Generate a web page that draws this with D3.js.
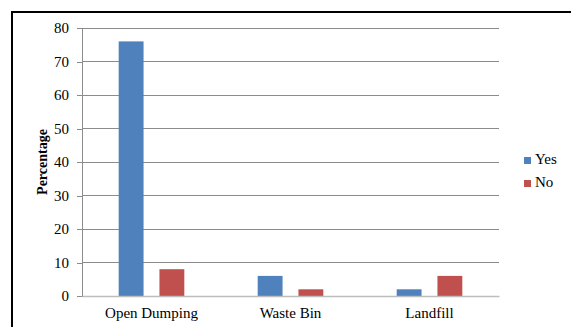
<!DOCTYPE html>
<html>
<head>
<meta charset="utf-8">
<script src="https://cdn.jsdelivr.net/npm/d3@7"></script>
<style>
  html, body { margin: 0; padding: 0; background: #fff; }
  svg { display: block; }
  text { font-family: "Liberation Serif", "Times New Roman", serif; fill: #000; }
</style>
</head>
<body>
<script>
// Disposal method survey: share of respondents answering Yes / No
const categories = ["Open Dumping", "Waste Bin", "Landfill"];
const seriesNames = ["Yes", "No"];
const yesValues = [76, 6, 2];
const noValues = [8, 2, 6];
const yTicks = [0, 10, 20, 30, 40, 50, 60, 70, 80];
const colors = ["#4F81BD", "#C0504D"];

const W = 571, H = 327;
const plot = { left: 82, right: 499, top: 28, bottom: 296 };
const FONT = '"Liberation Serif", "Times New Roman", serif';

const svg = d3.select("body").append("svg")
  .attr("width", W).attr("height", H);

// outer chart frame (runs off the right and bottom edges)
svg.append("rect")
  .attr("x", 12).attr("y", 12)
  .attr("width", W + 20).attr("height", H + 20)
  .attr("fill", "none").attr("stroke", "#000").attr("stroke-width", 2);

const x0 = d3.scaleBand().domain(categories)
  .range([plot.left, plot.right]).padding(0);
const x1 = d3.scaleBand().domain(seriesNames)
  .range([0, x0.bandwidth()]).paddingInner(0.39).paddingOuter(0.9);
const y = d3.scaleLinear().domain([0, 80]).range([plot.bottom, plot.top]);

// horizontal gridlines
svg.append("g").selectAll("line").data(yTicks.filter(t => t > 0)).join("line")
  .attr("x1", plot.left).attr("x2", plot.right)
  .attr("y1", d => y(d)).attr("y2", d => y(d))
  .attr("stroke", "#8c8c8c").attr("stroke-width", 1)
  .attr("shape-rendering", "crispEdges");

// y axis
const yAxis = svg.append("g")
  .attr("transform", `translate(${plot.left},0)`)
  .call(d3.axisLeft(y).tickValues(yTicks).tickSize(5).tickSizeOuter(0).tickPadding(8));
yAxis.select(".domain").attr("stroke", "#8c8c8c").attr("shape-rendering", "crispEdges");
yAxis.selectAll(".tick line").attr("stroke", "#8c8c8c").attr("shape-rendering", "crispEdges");
yAxis.selectAll(".tick text")
  .style("font-family", FONT).style("font-size", "15px").attr("fill", "#000");

// bars
const rows = categories.map((c, i) => ({ cat: c, vals: [yesValues[i], noValues[i]] }));
const groups = svg.append("g").selectAll("g").data(rows).join("g")
  .attr("transform", d => `translate(${x0(d.cat)},0)`);
groups.selectAll("rect")
  .data(d => d.vals.map((v, j) => ({ key: seriesNames[j], v, j })))
  .join("rect")
  .attr("x", d => x1(d.key))
  .attr("width", x1.bandwidth())
  .attr("y", d => y(d.v))
  .attr("height", d => y(0) - y(d.v))
  .attr("fill", d => colors[d.j]);

// x axis baseline
const xAxis = svg.append("g")
  .attr("transform", `translate(0,${plot.bottom})`)
  .call(d3.axisBottom(x0).tickSize(0).tickPadding(11));
xAxis.select(".domain").attr("stroke", "#bdbdbd").attr("stroke-width", 1.5);
xAxis.selectAll(".tick text")
  .style("font-family", FONT).style("font-size", "15px").attr("fill", "#000");

// y axis title
svg.append("text")
  .attr("transform", `translate(47,${(plot.top + plot.bottom) / 2}) rotate(-90)`)
  .attr("text-anchor", "middle")
  .style("font-size", "14px").style("font-weight", "bold")
  .text("Percentage");

// legend
const legend = svg.append("g").attr("transform", "translate(524,157)");
const li = legend.selectAll("g").data(seriesNames).join("g")
  .attr("transform", (d, i) => `translate(0,${i * 23})`);
li.append("rect").attr("width", 7).attr("height", 7)
  .attr("fill", (d, i) => colors[i]);
li.append("text").attr("x", 11).attr("y", 7)
  .style("font-size", "15px").text(d => d);
</script>
</body>
</html>
